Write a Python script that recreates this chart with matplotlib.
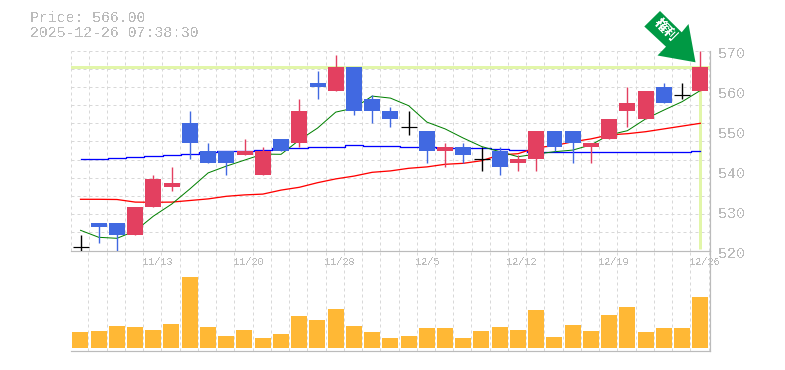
import numpy as np
import matplotlib
matplotlib.use("Agg")
import matplotlib.pyplot as plt
from matplotlib.patches import Polygon
from matplotlib.transforms import ScaledTranslation

plt.rcParams["text.antialiased"] = False

dates = ["11/7","11/10","11/11","11/12","11/13","11/14","11/17","11/18","11/19","11/20","11/21",
         "11/25","11/26","11/27","11/28","12/1","12/2","12/3","12/4","12/5","12/8","12/9","12/10",
         "12/11","12/12","12/15","12/16","12/17","12/18","12/19","12/22","12/23","12/24","12/25","12/26"]
shown_dates = ["11/13","11/20","11/28","12/5","12/12","12/19","12/26"]

opens  = [521,527,527,524,531,536,552,545,545,544,539,548,547,562,560,566,558,555,551,550,545,546,543,545,542,543,550,550,546,548,555,553,561,559,560]
highs  = [524,527,527,531,539,541,555,547,545,548,546,548,558,565,569,566,559,556,555,550,547,547,546,546,544,550,550,550,547,553,561,560,562,562,570]
lows   = [520,522,520,524,531,535,543,542,539,544,539,545,546,558,560,554,552,551,549,542,541,542,540,539,540,540,545,542,542,548,551,553,557,558,560]
closes = [521,526,524,531,538,537,547,542,542,545,545,545,555,561,566,555,555,553,551,545,546,544,543,541,543,550,546,547,547,553,557,560,557,559,566]

ma_short = [525.05,523.3,523.05,524.9,528.6,531.6,535.4,539.4,541.1,542.6,544.1,544.05,547.6,550.6,554.6,555.6,558.6,558.1,556.2,552.1,550.4,548.1,546.0,544.7,543.45,544.1,544.7,545.1,546.4,548.9,549.95,552.9,555.1,557.2,560.0]
ma_mid = [532.8,532.8,532.75,532.1,532.05,532.1,532.5,532.9,533.55,533.9,534.1,535.1,535.8,536.95,537.9,538.6,539.55,539.9,540.55,540.9,541.55,541.8,542.45,543.9,544.2,545.7,546.2,547.2,547.9,548.9,549.2,549.7,550.4,551.1,551.8]
ma_long = [542.8,543.0,543.25,543.5,543.75,544.0,544.25,544.6,544.9,545.0,545.1,545.55,545.55,545.8,545.9,546.3,546.05,546.05,545.8,545.8,545.75,545.6,545.55,545.4,545.1,544.75,544.55,544.55,544.55,544.55,544.55,544.55,544.55,544.55,544.8]
volumes = [16,17,22,21,18,24,71,21,12,18,10,14,32,28,39,22,16,10,12,20,20,10,17,21,18,38,11,23,17,33,41,16,20,20,51]

price_text = "Price: 566.00"
time_text = "2025-12-26 07:38:30"
event_text = "権利"
last_price = 566.0

W, H = 785, 370
GREY = "#bbbbbb"
GRID = "#d8d8d8"
UP, DOWN = "#e34060", "#4169e1"
MONO = "Liberation Mono"
PX = 0.72  # one pixel in points

fig = plt.figure(figsize=(W / 100, H / 100), dpi=100, facecolor="white")
L, R = 70.5, 710.0
ax = fig.add_axes([L / W, 1 - 250.5 / H, (R - L) / W, 200 / H])
vax = fig.add_axes([L / W, 1 - 350.5 / H, (R - L) / W, 100 / H])

n = len(dates)
idx = np.arange(n)
xlim = (-0.537, 34.53)
grid_x = np.arange(n + 1) - 0.55
grid_y = 520 + np.arange(12) * 50 / 11
dash = (0, (3, 3))

for a in (ax, vax):
    a.set_xlim(*xlim)
    a.set_facecolor("none")
    for s in ("top", "left"):
        a.spines[s].set_visible(False)
    for s in ("right", "bottom"):
        a.spines[s].set_color(GREY)
        a.spines[s].set_linewidth(PX * 1.2)
    vg = a.vlines(grid_x[grid_x < xlim[1]], 0, 1, transform=a.get_xaxis_transform(),
                  colors=GRID, lw=PX, linestyles=[dash], zorder=0.5)
    vg.set_snap(True)

# main panel
ax.set_ylim(520, 570)
hg = ax.hlines(grid_y[1:], *xlim, colors=GRID, lw=PX, linestyles=[dash], zorder=0.5)
hg.set_snap(True)
ax.axhline(last_price, color="#e2f6a9", lw=3 * PX, zorder=1)
ax.vlines(idx[-1], 520.4, last_price, color="#e2f6a9", lw=3 * PX, zorder=1)

ax.plot(idx, ma_long, color="#0000ff", lw=1.3 * PX, zorder=2, drawstyle="steps-mid")
ax.plot(idx, ma_mid, color="#ff0000", lw=1.3 * PX, zorder=2.1)
ax.plot(idx, ma_short, color="#008000", lw=1.0 * PX, zorder=2.2)

body_w = 16 / 18.235
for i, (o, h, l, c) in enumerate(zip(opens, highs, lows, closes)):
    col = UP if c > o else DOWN if c < o else "black"
    ax.vlines(i, l, h, color=col, lw=1.4 * PX, zorder=3)
    if c == o:
        ax.hlines(o, i - body_w / 2, i + body_w / 2, color=col, lw=1.2 * PX, zorder=3.1)
    else:
        ax.bar(i, abs(c - o), bottom=min(o, c), width=body_w, color=col, linewidth=0, zorder=3.1)

ax.yaxis.tick_right()
ax.set_yticks([520, 530, 540, 550, 560, 570])
ax.set_yticklabels(["520", "530", "540", "550", "560", "570"], family=MONO, fontsize=10.8, color=GREY)
ax.tick_params(axis="y", length=0, pad=6)
for lab in ax.get_yticklabels():
    lab.set_transform(lab.get_transform() + ScaledTranslation(0, -1.8 / 72, fig.dpi_scale_trans))

ax.set_xticks(grid_x[:-1])
ax.set_xticklabels([""] * n)
ax.tick_params(axis="x", length=0)
for i, d in enumerate(dates):
    if d in shown_dates:
        ax.annotate(d, (grid_x[i], 0), xycoords=ax.get_xaxis_transform(), xytext=(-1, -4.8),
                    textcoords="offset points", family=MONO, fontsize=7.25, color=GREY,
                    ha="left", va="top", annotation_clip=False, zorder=6)

# volume panel
vax.set_ylim(-2.5, 97.5)
vax.bar(idx, volumes, width=body_w, color="#ffb835", linewidth=0, zorder=2)
vax.set_xticks([])
vax.set_yticks([])

# header
fig.text(30 / W, 1 - 18 / H, price_text, family=MONO, fontsize=10.7, color=GREY, va="center", ha="left")
fig.text(30 / W, 1 - 33 / H, time_text, family=MONO, fontsize=10.7, color=GREY, va="center", ha="left")

# event marker
arrow_px = [(660, 11), (644.3, 26.5), (666, 46.7), (657.5, 55.5), (695.5, 62.3), (688.5, 24), (681.7, 32.3)]
fig.add_artist(Polygon([(x / W, 1 - y / H) for x, y in arrow_px], closed=True, transform=fig.transFigure,
                       facecolor="#009944", edgecolor="none", zorder=10))
fig.text(666 / W, 1 - 29.5 / H, event_text, family=["Noto Sans CJK JP", "DejaVu Sans"], fontsize=9.5,
         fontweight="bold", color="white", rotation=-45, rotation_mode="anchor", ha="center", va="center", zorder=11)

fig.savefig("out.png", dpi=100, facecolor="white")
